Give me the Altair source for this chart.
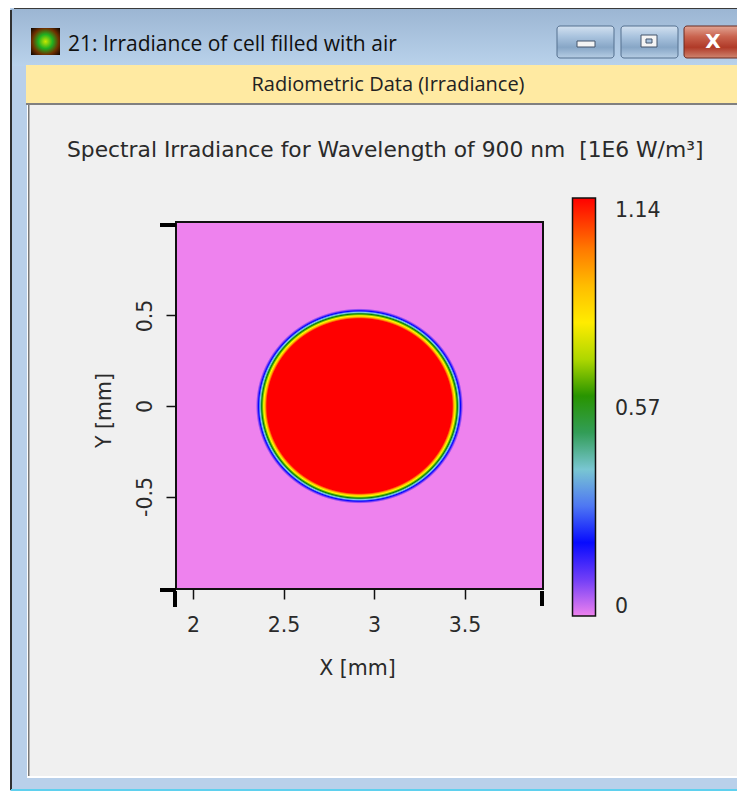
import altair as alt
import numpy as np
import pandas as pd

alt.data_transformers.disable_max_rows()

# ---- values ----
scale_stops = [0, 0.19, 0.38, 0.57, 0.76, 0.95, 1.14]
scale_colors = ["#ee82ee", "#0000ff", "#87ceeb", "#008000", "#ffff00", "#ffa500", "#ff0000"]
colorbar_labels = [0, 0.57, 1.14]
x_ticks = [2, 2.5, 3, 3.5]
y_ticks = [-0.5, 0, 0.5]
spot_center = [2.92, 0.0]
spot_radii = [0.572, 0.539]
profile_rho = [0.895, 0.91, 0.925, 0.945, 0.96, 0.975, 0.987, 1.0]
profile_val = [1.14, 0.95, 0.76, 0.57, 0.38, 0.19, 0.09, 0.0]
PX_PER_MM = 181.0
x_domain = [2 - 17 / PX_PER_MM, 2 + 350 / PX_PER_MM]
y_domain = [-183 / PX_PER_MM, 184 / PX_PER_MM]
TITLE = "Spectral Irradiance for Wavelength of 900 nm\u00a0\u00a0[1E6 W/m³]"
WINDOW_TITLE = "21: Irradiance of cell filled with air"
BAND_TITLE = "Radiometric Data (Irradiance)"
FONT = "DejaVu Sans"
UI_FONT = "Open Sans"
TEXT = "#2a2a2a"

# plot area's top-left corner in window pixels
OX, OY = 176, 222


def px(v):
    return v - OX


def py(v):
    return v - OY


one = pd.DataFrame({"a": [0]})


def box(x0, y0, x1, y1, **kw):
    return alt.Chart(one).mark_rect(**kw).encode(
        x=alt.value(px(x0)), x2=alt.value(px(x1)), y=alt.value(py(y0)), y2=alt.value(py(y1))
    )


def label(s, x, y, **kw):
    return alt.Chart(one).mark_text(**kw).encode(
        x=alt.value(px(x)), y=alt.value(py(y)), text=alt.value(s)
    )


def vgrad(*cols):
    n = len(cols) - 1
    return alt.LinearGradient(
        gradient="linear", x1=0, x2=0, y1=0, y2=1,
        stops=[alt.GradientStop(offset=i / n, color=c) for i, c in enumerate(cols)],
    )


# ---- heat map table: background, then spot rows and edge pixels ----
rows = [dict(x=x_domain[0], x2=x_domain[1], y=y_domain[0], y2=y_domain[1], v=0.0)]
step = 1 / PX_PER_MM
for j in range(367):
    ytop = y_domain[1] - j * step
    yc = ytop - step / 2
    inner_start = None
    inner_end = None
    for i in range(367):
        xl = x_domain[0] + i * step
        xc = xl + step / 2
        rho = np.hypot((xc - spot_center[0]) / spot_radii[0], (yc - spot_center[1]) / spot_radii[1])
        if rho >= 1:
            continue
        v = float(np.interp(rho, profile_rho, profile_val))
        if v >= 1.14:
            if inner_start is None:
                inner_start = xl
            inner_end = xl + step
        else:
            rows.append(dict(x=xl, x2=xl + step, y=ytop - step, y2=ytop, v=round(v, 3)))
    if inner_start is not None:
        rows.append(dict(x=inner_start, x2=inner_end, y=ytop - step, y2=ytop, v=1.14))
heat_df = pd.DataFrame(rows)

# ---- window frame ----
chrome = [
    box(10, 7, 745, 791, fill="#b9d0ea"),
    box(11, 9, 745, 66, fill=vgrad("#9cb6d3", "#b9d2eb")),
    box(10, 10, 12, 790, fill="#303030"),
    box(14, 7, 745, 9, fill="#3a3a3a"),
    box(11, 789, 745, 791, fill="#5fd0ee"),
    box(26, 65, 745, 103, fill="#ffeaa2"),
    box(26, 103, 745, 105, fill="#808080"),
    box(27, 105, 745, 778, fill="#ffffff"),
    box(28, 105, 745, 776, fill="#f0f0f0"),
    box(28, 105, 29.5, 776, fill="#7a7a7a"),
    # icon
    box(31, 28, 60, 55, fill=alt.RadialGradient(
        gradient="radial", r1=0, r2=0.7,
        stops=[alt.GradientStop(offset=0, color="#c8e800"),
               alt.GradientStop(offset=0.35, color="#20b020"),
               alt.GradientStop(offset=0.65, color="#703000"),
               alt.GradientStop(offset=1, color="#000000")])),
    # window buttons
    box(557, 26, 614, 58, fill=vgrad("#d3e1f0", "#a9c3de", "#87a6c6", "#b6cde4"), stroke="#55708f", cornerRadius=3),
    box(621, 26, 678, 58, fill=vgrad("#d3e1f0", "#a9c3de", "#87a6c6", "#b6cde4"), stroke="#55708f", cornerRadius=3),
    box(684, 26, 743, 58, fill=vgrad("#e2a594", "#c9634e", "#b03a28", "#d08670"), stroke="#6b2a20", cornerRadius=3),
    box(577, 41, 595, 47, fill="#f4f4f4", stroke="#44546a"),
    box(641, 35, 657, 47, fill="#f4f4f4", stroke="#44546a"),
    box(646, 39, 652, 43, fill="#a9c3de", stroke="#44546a"),
    label("X", 713, 42, font=FONT, fontSize=20, fontWeight="bold", color="#ffffff", align="center", baseline="middle"),
    label(WINDOW_TITLE, 68, 45, font=UI_FONT, fontSize=21, color="#101010", align="left", baseline="middle"),
    label(BAND_TITLE, 388, 85, font=UI_FONT, fontSize=20, color="#222222", align="center", baseline="middle"),
    label(TITLE, 67, 150, font=FONT, fontSize=21.8, color=TEXT, align="left", baseline="middle"),
]

# ---- heat map ----
x_scale = alt.Scale(domain=x_domain, nice=False, zero=False)
y_scale = alt.Scale(domain=y_domain, nice=False, zero=False)
color_scale = alt.Scale(domain=scale_stops, range=scale_colors, interpolate="rgb")

axis_common = dict(
    grid=False, domain=False, ticks=True, tickColor="#111111", tickWidth=1.5, tickSize=10,
    labelFont=FONT, labelFontSize=20.5, labelColor=TEXT, labelExpr="datum.value", zindex=1,
    titleFont=FONT, titleFontSize=20.5, titleFontWeight="normal", titleColor=TEXT,
    labelOverlap=False, labelFlush=False,
)

heat = alt.Chart(heat_df).mark_rect().encode(
    x=alt.X("x:Q", scale=x_scale, title="X [mm]",
            axis=alt.Axis(values=x_ticks, labelPadding=16, titlePadding=23, titleX=181, **axis_common)),
    x2="x2:Q",
    y=alt.Y("y:Q", scale=y_scale, title="Y [mm]",
            axis=alt.Axis(values=y_ticks, labelAngle=270, labelAlign="center", labelBaseline="middle",
                          labelPadding=21, titlePadding=21, titleY=188, **axis_common)),
    y2="y2:Q",
    color=alt.Color("v:Q", scale=color_scale, legend=alt.Legend(
        orient="none", legendX=px(572.5), legendY=py(198), title=None, type="gradient", padding=0,
        gradientLength=418, gradientThickness=23, gradientStrokeColor="#111111", gradientStrokeWidth=1.5,
        values=colorbar_labels, labelExpr="''", tickCount=3)),
)

frame = alt.Chart(pd.DataFrame({"x": [x_domain[0]], "x2": [x_domain[1]], "y": [y_domain[0]], "y2": [y_domain[1]]})).mark_rect(
    filled=False, stroke="#111111", strokeWidth=2
).encode(
    x=alt.X("x:Q", scale=x_scale), x2="x2:Q", y=alt.Y("y:Q", scale=y_scale), y2="y2:Q"
)


def corner(x0, y0, x1, y1):
    return alt.Chart(one).mark_rule(color="#000000", strokeWidth=4).encode(
        x=alt.value(px(x0)), x2=alt.value(px(x1)), y=alt.value(py(y0)), y2=alt.value(py(y1))
    )


corners = [
    corner(160, 225, 176, 225),
    corner(160, 590, 176, 590),
    corner(175, 591, 175, 607),
    corner(542, 591, 542, 606),
]

cb_labels = alt.Chart(pd.DataFrame({"v": colorbar_labels})).mark_text(
    font=FONT, fontSize=20.5, color=TEXT, align="left", baseline="middle"
).encode(
    x=alt.value(px(615)),
    y=alt.Y("v:Q", scale=alt.Scale(domain=[0, 1.14], range=[py(607), py(211)]), axis=None),
    text=alt.Text("v:Q", format="~g"),
)

chart = alt.layer(*chrome, heat, frame, *corners, cb_labels).resolve_scale(y="independent").properties(
    width=367,
    height=367,
    background="#ffffff",
    padding={"left": 168, "right": 194, "top": 214, "bottom": 202},
    autosize=alt.AutoSizeParams(type="none"),
).configure_view(stroke=None)

chart.save("out.html", embed_options={"renderer": "svg", "actions": False})
